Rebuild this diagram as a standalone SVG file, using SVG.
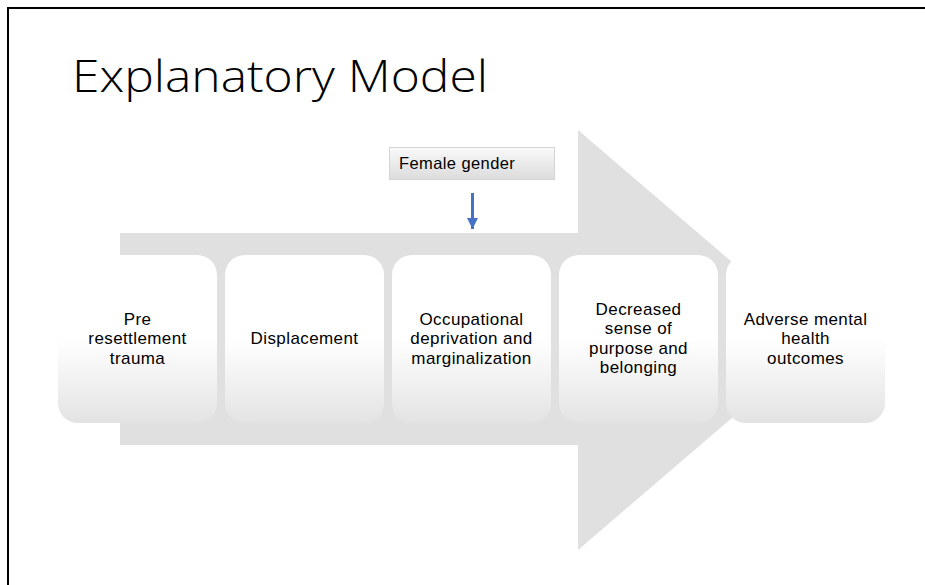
<svg xmlns="http://www.w3.org/2000/svg" width="925" height="585" viewBox="0 0 925 585">
  <defs>
    <linearGradient id="stepFill" x1="0" y1="0" x2="0" y2="1">
      <stop offset="0" stop-color="#ffffff"/>
      <stop offset="0.5" stop-color="#ffffff"/>
      <stop offset="1" stop-color="#e3e3e3"/>
    </linearGradient>
    <linearGradient id="tagFill" x1="0" y1="0" x2="0" y2="1">
      <stop offset="0" stop-color="#f9f9f9"/>
      <stop offset="1" stop-color="#dcdcdc"/>
    </linearGradient>
    <marker id="blueHead" viewBox="0 0 10 10" refX="10" refY="5" markerWidth="3.8" markerHeight="3.8" markerUnits="strokeWidth" orient="auto">
      <path d="M0,0 L10,5 L0,10 Z" fill="#4472c4"/>
    </marker>
  </defs>
  <style>
    .title { font-family: "Open Sans", "Liberation Sans", sans-serif; font-size: 44px; font-weight: 300; fill: #000; }
    .step { fill: url(#stepFill); }
    .label { font-family: "Liberation Sans", Arial, sans-serif; font-size: 17px; letter-spacing: 0.4px; fill: #000; text-anchor: middle; }
    .tag { fill: url(#tagFill); stroke: #d4d4d4; stroke-width: 1; }
    .tagText { font-family: "Liberation Sans", Arial, sans-serif; font-size: 16.5px; letter-spacing: 0.4px; fill: #000; }
  </style>

  <rect width="925" height="585" fill="#ffffff"/>
  <!-- slide frame -->
  <path d="M8,585 V8 H925" fill="none" stroke="#000" stroke-width="2"/>

  <text class="title" x="72" y="92" textLength="416" lengthAdjust="spacingAndGlyphs">Explanatory Model</text>

  <!-- background process arrow -->
  <polygon id="processArrow" points="120,233 578,233 578,130 823,340 578,550 578,445 120,445" fill="#e0e0e0"/>

  <g id="node-pre">
    <rect class="step" x="58" y="255" width="159" height="168" rx="20"/>
    <text class="label" x="137.5" y="324.5">Pre</text>
    <text class="label" x="137.5" y="344">resettlement</text>
    <text class="label" x="137.5" y="363.5">trauma</text>
  </g>
  <g id="node-displacement">
    <rect class="step" x="225" y="255" width="159" height="168" rx="20"/>
    <text class="label" x="304.5" y="344">Displacement</text>
  </g>
  <g id="node-occupational">
    <rect class="step" x="392" y="255" width="159" height="168" rx="20"/>
    <text class="label" x="471.5" y="324.5">Occupational</text>
    <text class="label" x="471.5" y="344">deprivation and</text>
    <text class="label" x="471.5" y="363.5">marginalization</text>
  </g>
  <g id="node-purpose">
    <rect class="step" x="559" y="255" width="159" height="168" rx="20"/>
    <text class="label" x="638.5" y="314.75">Decreased</text>
    <text class="label" x="638.5" y="334.25">sense of</text>
    <text class="label" x="638.5" y="353.75">purpose and</text>
    <text class="label" x="638.5" y="373.25">belonging</text>
  </g>
  <g id="node-outcomes">
    <rect class="step" x="726" y="255" width="159" height="168" rx="20"/>
    <text class="label" x="805.5" y="324.5">Adverse mental</text>
    <text class="label" x="805.5" y="344">health</text>
    <text class="label" x="805.5" y="363.5">outcomes</text>
  </g>

  <g id="node-female">
    <rect class="tag" x="389.5" y="147.5" width="165" height="32"/>
    <text class="tagText" x="399" y="169">Female gender</text>
  </g>

  <g id="connectors">
    <line x1="472.5" y1="193" x2="472.5" y2="229" stroke="#4472c4" stroke-width="3" marker-end="url(#blueHead)"/>
  </g>
</svg>
